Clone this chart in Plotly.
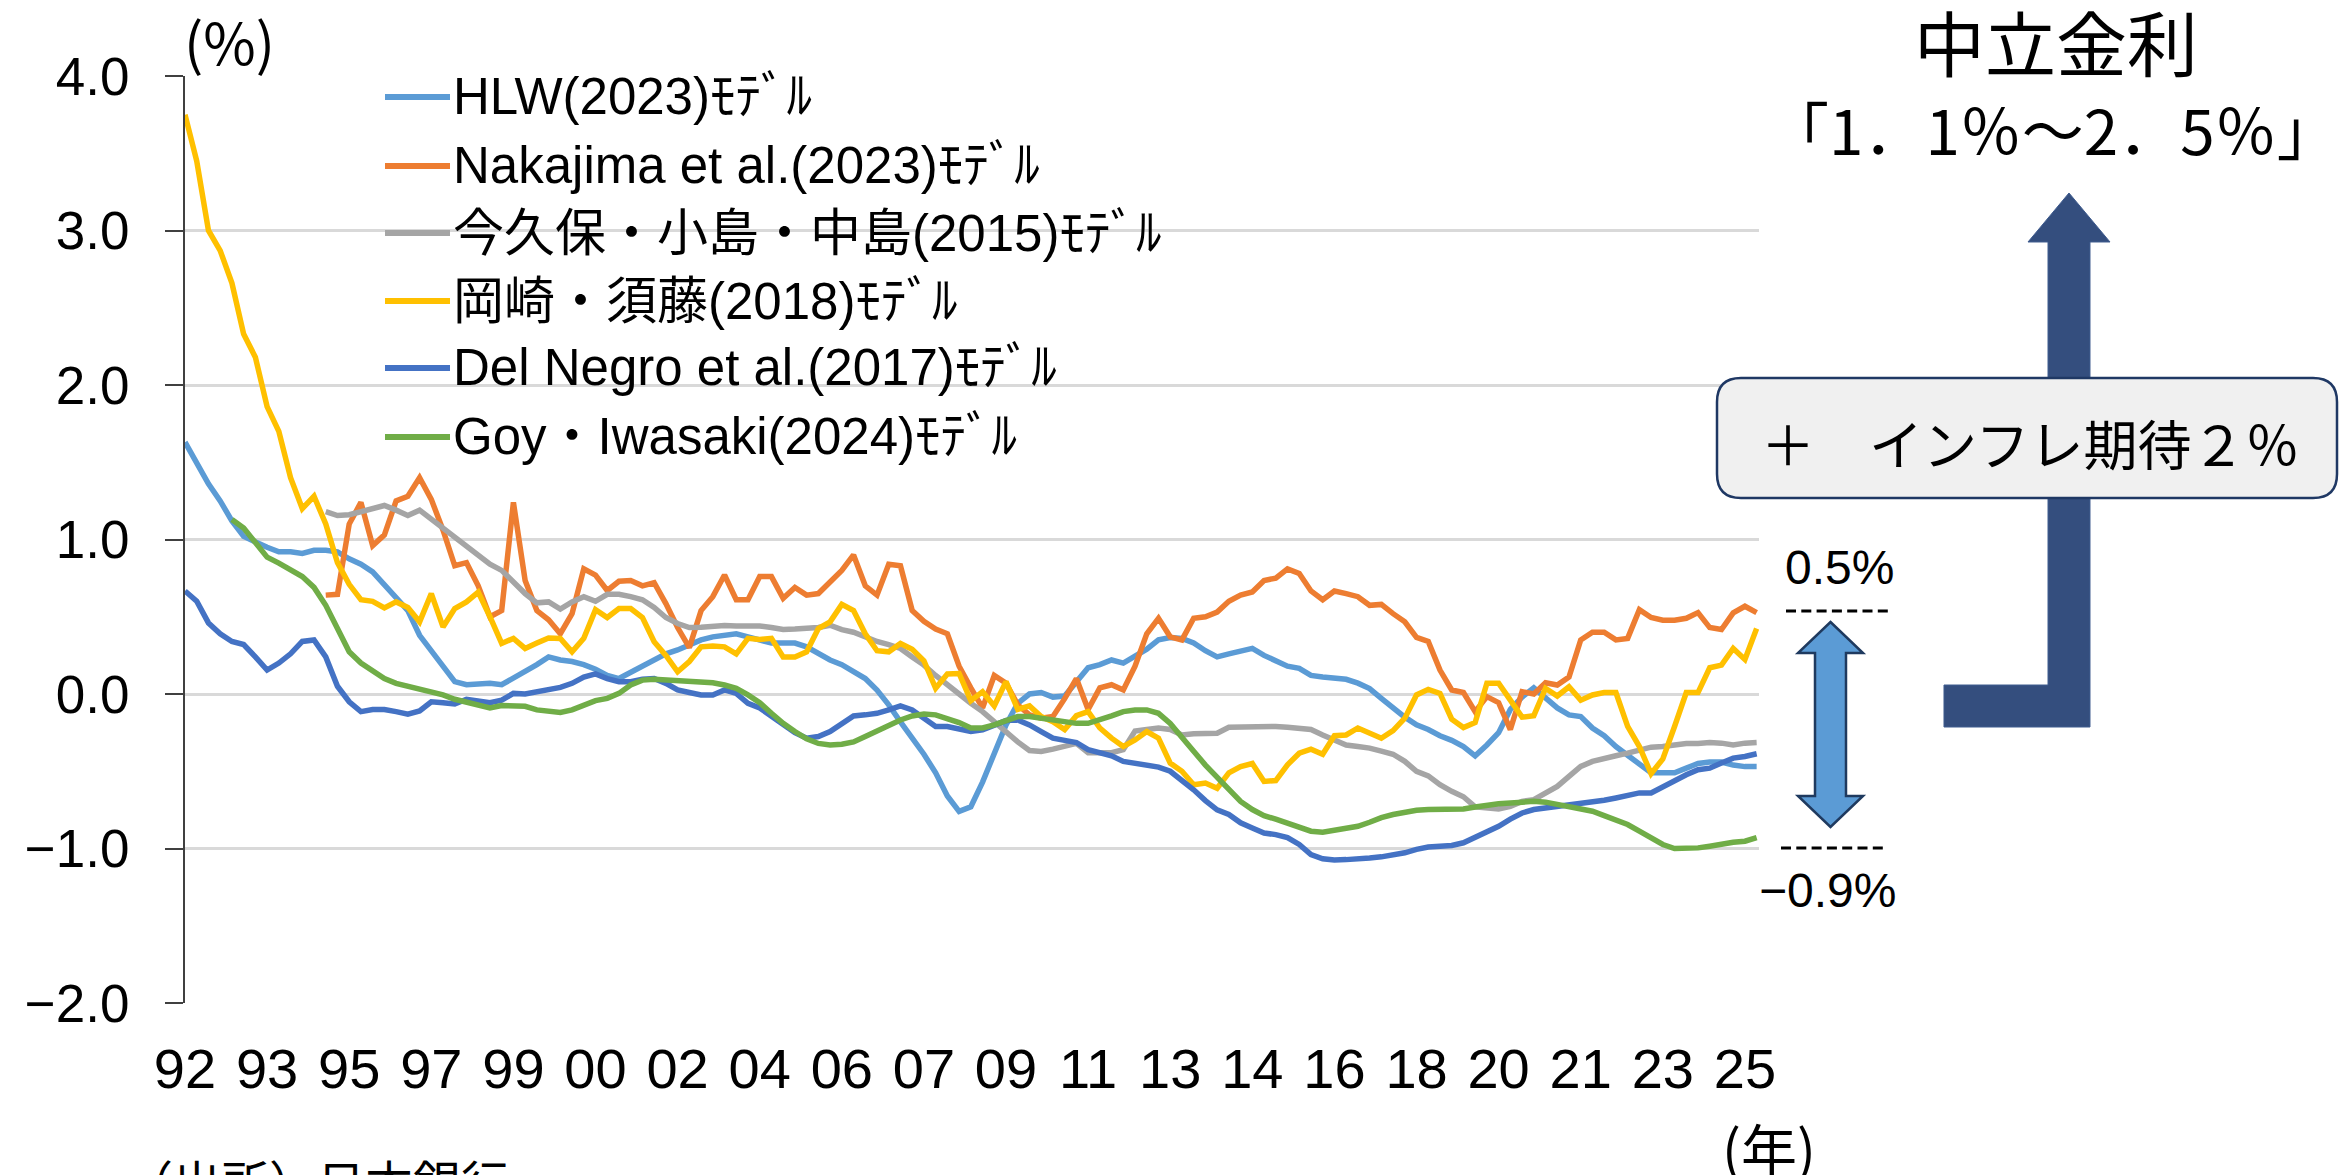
import plotly.graph_objects as go

# ---------------- data (quarterly, 1992Q1 = index 0) ----------------
tick_labels = ["92", "93", "95", "97", "99", "00", "02", "04", "06", "07",
               "09", "11", "13", "14", "16", "18", "20", "21", "23", "25"]
tick_step = 7

series_names = ["HLW(2023)ﾓﾃﾞﾙ", "Nakajima et al.(2023)ﾓﾃﾞﾙ", "今久保・小島・中島(2015)ﾓﾃﾞﾙ",
                "岡崎・須藤(2018)ﾓﾃﾞﾙ", "Del Negro et al.(2017)ﾓﾃﾞﾙ", "Goy・Iwasaki(2024)ﾓﾃﾞﾙ"]
series_colors = ["#5B9BD5", "#ED7D31", "#A5A5A5", "#FFC000", "#4472C4", "#70AD47"]

hlw = [1.63, 1.49, 1.36, 1.25, 1.12, 1.02, 0.98, 0.95, 0.92, 0.92,
       0.91, 0.93, 0.93, 0.92, 0.875, 0.84, 0.79, 0.71, 0.63, 0.54,
       0.38, 0.28, 0.18, 0.08, 0.06, 0.065, 0.07, 0.06, 0.10, 0.15,
       0.19, 0.24, 0.22, 0.21, 0.19, 0.16, 0.12, 0.10, 0.14, 0.19,
       0.23, 0.26, 0.285, 0.32, 0.35, 0.37, 0.38, 0.39, 0.37, 0.35,
       0.33, 0.33, 0.33, 0.305, 0.26, 0.22, 0.19, 0.14, 0.10, 0.025,
       -0.07, -0.18, -0.28, -0.39, -0.51, -0.66, -0.76, -0.73, -0.57, -0.39,
       -0.20, -0.06, 0.0, 0.01, -0.02, -0.013, 0.08, 0.17, 0.19, 0.22,
       0.20, 0.24, 0.29, 0.35, 0.365, 0.36, 0.33, 0.28, 0.24, 0.26,
       0.28, 0.295, 0.25, 0.21, 0.18, 0.166, 0.12, 0.11, 0.10, 0.095,
       0.07, 0.035, -0.028, -0.09, -0.15, -0.20, -0.23, -0.27, -0.30, -0.34,
       -0.40, -0.33, -0.25, -0.10, -0.02, 0.04, -0.02, -0.09, -0.135, -0.146,
       -0.22, -0.27, -0.34, -0.40, -0.46, -0.51, -0.51, -0.51, -0.48, -0.45,
       -0.44, -0.44, -0.46, -0.47, -0.47]

nakajima = [None] * 12 + [
       0.64, 0.645, 1.10, 1.24, 0.96, 1.03, 1.25, 1.28,
       1.40, 1.26, 1.06, 0.83, 0.85, 0.70, 0.50, 0.54, 1.24, 0.735,
       0.54, 0.48, 0.39, 0.52, 0.81, 0.77, 0.67, 0.73, 0.735, 0.70,
       0.72, 0.585, 0.43, 0.30, 0.54, 0.63, 0.77, 0.61, 0.61, 0.76,
       0.76, 0.62, 0.69, 0.64, 0.65, 0.72, 0.80, 0.90, 0.70, 0.64,
       0.84, 0.83, 0.54, 0.47, 0.42, 0.39, 0.18, 0.04, -0.09, 0.12,
       0.07, -0.07, -0.135, -0.157, -0.146, -0.03, 0.10, -0.10, 0.04, 0.06,
       0.026, 0.18, 0.39, 0.49, 0.37, 0.35, 0.49, 0.50, 0.53, 0.60,
       0.64, 0.66, 0.735, 0.75, 0.81, 0.78, 0.667, 0.61, 0.667, 0.65,
       0.63, 0.574, 0.58, 0.52, 0.467, 0.366, 0.34, 0.155, 0.026, 0.01,
       -0.114, -0.017, -0.056, -0.23, 0.015, 0.0, 0.073, 0.058, 0.11, 0.35,
       0.40, 0.40, 0.35, 0.36, 0.546, 0.495, 0.477, 0.477, 0.49, 0.527,
       0.43, 0.417, 0.525, 0.568, 0.527]

imakubo = [None] * 12 + [
       1.18, 1.155, 1.16, 1.18, 1.20, 1.22, 1.19, 1.155,
       1.19, 1.13, 1.08, 1.02, 0.96, 0.90, 0.84, 0.80, 0.725, 0.65,
       0.59, 0.596, 0.55, 0.596, 0.63, 0.60, 0.645, 0.645, 0.63, 0.61,
       0.56, 0.495, 0.456, 0.43, 0.432, 0.44, 0.443, 0.44, 0.44, 0.44,
       0.43, 0.417, 0.42, 0.424, 0.43, 0.445, 0.417, 0.40, 0.37, 0.34,
       0.32, 0.295, 0.24, 0.187, 0.12, 0.058, -0.006, -0.06, -0.114, -0.18,
       -0.24, -0.31, -0.366, -0.372, -0.357, -0.335, -0.32, -0.38, -0.38, -0.38,
       -0.36, -0.24, -0.23, -0.22, -0.23, -0.265, -0.258, -0.256, -0.254, -0.215,
       -0.212, -0.21, -0.21, -0.21, -0.215, -0.22, -0.23, -0.265, -0.30, -0.33,
       -0.34, -0.35, -0.37, -0.39, -0.436, -0.50, -0.53, -0.587, -0.63, -0.665,
       -0.73, -0.733, -0.744, -0.727, -0.695, -0.684, -0.64, -0.598, -0.533, -0.469,
       -0.436, -0.415, -0.40, -0.383, -0.36, -0.344, -0.34, -0.33, -0.32, -0.32,
       -0.314, -0.318, -0.33, -0.318, -0.314]

okazaki = [3.75, 3.45, 3.00, 2.87, 2.66, 2.33, 2.18, 1.86, 1.70, 1.40,
       1.20, 1.28, 1.10, 0.85, 0.71, 0.61, 0.60, 0.557, 0.596, 0.56,
       0.467, 0.65, 0.434, 0.553, 0.596, 0.66, 0.50, 0.327, 0.36, 0.295,
       0.33, 0.363, 0.36, 0.273, 0.36, 0.546, 0.495, 0.553, 0.553, 0.495,
       0.338, 0.25, 0.144, 0.21, 0.305, 0.31, 0.305, 0.26, 0.36, 0.353,
       0.36, 0.24, 0.24, 0.273, 0.424, 0.467, 0.58, 0.54, 0.39, 0.28,
       0.273, 0.327, 0.29, 0.215, 0.037, 0.13, 0.133, -0.043, 0.015, -0.077,
       0.08, -0.10, -0.077, -0.146, -0.18, -0.23, -0.14, -0.114, -0.22, -0.286,
       -0.34, -0.297, -0.243, -0.286, -0.447, -0.50, -0.587, -0.576, -0.61, -0.51,
       -0.47, -0.45, -0.566, -0.56, -0.458, -0.383, -0.357, -0.39, -0.27, -0.265,
       -0.22, -0.258, -0.286, -0.237, -0.157, -0.006, 0.03, 0.004, -0.163, -0.217,
       -0.185, 0.07, 0.07, -0.04, -0.15, -0.14, 0.037, -0.013, 0.047, -0.04,
       -0.006, 0.009, 0.009, -0.21, -0.34, -0.516, -0.42, -0.21, 0.009, 0.009,
       0.17, 0.187, 0.295, 0.224, 0.424]

delnegro = [0.667, 0.60, 0.46, 0.39, 0.34, 0.32, 0.24, 0.155, 0.20, 0.26,
       0.34, 0.35, 0.24, 0.05, -0.05, -0.114, -0.10, -0.10, -0.114, -0.13,
       -0.11, -0.05, -0.056, -0.065, -0.034, -0.043, -0.056, -0.04, 0.004, 0.0,
       0.013, 0.026, 0.043, 0.069, 0.11, 0.13, 0.10, 0.08, 0.08, 0.095,
       0.10, 0.069, 0.026, 0.01, -0.006, -0.006, 0.026, 0.004, -0.06, -0.09,
       -0.146, -0.20, -0.25, -0.286, -0.275, -0.243, -0.19, -0.142, -0.135, -0.125,
       -0.103, -0.077, -0.103, -0.157, -0.21, -0.21, -0.228, -0.243, -0.232, -0.20,
       -0.172, -0.168, -0.20, -0.243, -0.286, -0.30, -0.314, -0.36, -0.38, -0.40,
       -0.436, -0.447, -0.458, -0.473, -0.50, -0.555, -0.62, -0.69, -0.75, -0.78,
       -0.834, -0.867, -0.90, -0.91, -0.93, -0.974, -1.04, -1.067, -1.075, -1.072,
       -1.07, -1.062, -1.054, -1.045, -1.028, -1.006, -0.99, -0.985, -0.98, -0.963,
       -0.93, -0.888, -0.856, -0.81, -0.77, -0.748, -0.738, -0.727, -0.723, -0.71,
       -0.695, -0.688, -0.673, -0.652, -0.64, -0.64, -0.602, -0.555, -0.523, -0.49,
       -0.48, -0.447, -0.415, -0.404, -0.387]

goy = [None] * 4 + [
       1.13, 1.075, 0.98, 0.886, 0.847, 0.80,
       0.76, 0.69, 0.574, 0.424, 0.273, 0.20, 0.15, 0.10, 0.069, 0.05,
       0.037, 0.02, -0.006, -0.034, -0.05, -0.065, -0.09, -0.075, -0.077, -0.08,
       -0.103, -0.114, -0.12, -0.103, -0.07, -0.043, -0.028, 0.004, 0.058, 0.09,
       0.095, 0.09, 0.086, 0.08, 0.077, 0.073, 0.058, 0.037, -0.006, -0.056,
       -0.125, -0.19, -0.243, -0.29, -0.32, -0.33, -0.325, -0.31, -0.275, -0.24,
       -0.20, -0.168, -0.142, -0.13, -0.135, -0.157, -0.185, -0.22, -0.22, -0.20,
       -0.172, -0.146, -0.146, -0.157, -0.168, -0.178, -0.19, -0.19, -0.168, -0.142,
       -0.114, -0.103, -0.103, -0.125, -0.19, -0.286, -0.37, -0.46, -0.54, -0.61,
       -0.695, -0.748, -0.787, -0.81, -0.834, -0.86, -0.888, -0.895, -0.88, -0.868,
       -0.856, -0.83, -0.80, -0.78, -0.766, -0.753, -0.748, -0.748, -0.748, -0.744,
       -0.731, -0.716, -0.71, -0.705, -0.70, -0.695, -0.70, -0.716, -0.73, -0.744,
       -0.759, -0.787, -0.817, -0.845, -0.888, -0.93, -0.974, -1.0, -1.0, -0.996,
       -0.985, -0.968, -0.96, -0.953, -0.93]

series_values = [hlw, nakajima, imakubo, okazaki, delnegro, goy]

# ---------------- layout geometry (pixels) ----------------
W, H = 2341, 1175
L, R, T, B = 185, 1759, 76, 1003


def px(x):
    return (x - L) / (R - L)


def py(y):
    return (B - y) / (B - T)


def path_of(points):
    return "M " + " L ".join(f"{px(x):.5f},{py(y):.5f}" for x, y in points) + " Z"


NUM_FONT = "Liberation Sans, Noto Sans CJK JP, sans-serif"
JP_FONT = "Noto Sans CJK JP, Liberation Sans, sans-serif"
INK = "#000000"

fig = go.Figure()
for name, color, vals in zip(series_names, series_colors, series_values):
    fig.add_trace(go.Scatter(
        x=list(range(len(vals))), y=vals, mode="lines", name=name,
        line=dict(color=color, width=5.5), showlegend=False,
        connectgaps=False, hoverinfo="skip"))

n_points = len(hlw)
fig.update_xaxes(
    range=[0, (n_points - 1) + 0.2],
    tickmode="array",
    tickvals=[i * tick_step for i in range(len(tick_labels))],
    ticktext=tick_labels,
    ticks="", showgrid=False, showline=False, zeroline=False,
    tickfont=dict(family=NUM_FONT, size=56, color=INK),
    ticklabelstandoff=28,
)
fig.update_yaxes(
    range=[-2, 4], tickmode="array", tickvals=[-2, -1, 0, 1, 2, 3, 4],
    tickformat=".1f",
    showgrid=True, gridcolor="#D9D9D9", gridwidth=2.5,
    showline=True, linecolor="#404040", linewidth=2,
    ticks="outside", ticklen=18, tickwidth=2, tickcolor="#404040",
    zeroline=False,
    tickfont=dict(family=NUM_FONT, size=53, color=INK),
    ticklabelstandoff=25,
)

shapes = []
# big navy L-shaped arrow
shapes.append(dict(type="path", xref="paper", yref="paper",
                   path=path_of([(1944, 685), (2048, 685), (2048, 242), (2028, 242),
                                 (2069, 193), (2110, 242), (2090, 242), (2090, 727),
                                 (1944, 727)]),
                   fillcolor="#344E7E", line=dict(color="#3F5C8F", width=1), layer="above"))
# rounded box
x0, x1, y0, y1, r = 1717, 2337, 378, 498, 24
rb = [f"M {px(x0 + r):.5f},{py(y0):.5f}",
      f"L {px(x1 - r):.5f},{py(y0):.5f}",
      f"Q {px(x1):.5f},{py(y0):.5f} {px(x1):.5f},{py(y0 + r):.5f}",
      f"L {px(x1):.5f},{py(y1 - r):.5f}",
      f"Q {px(x1):.5f},{py(y1):.5f} {px(x1 - r):.5f},{py(y1):.5f}",
      f"L {px(x0 + r):.5f},{py(y1):.5f}",
      f"Q {px(x0):.5f},{py(y1):.5f} {px(x0):.5f},{py(y1 - r):.5f}",
      f"L {px(x0):.5f},{py(y0 + r):.5f}",
      f"Q {px(x0):.5f},{py(y0):.5f} {px(x0 + r):.5f},{py(y0):.5f} Z"]
shapes.append(dict(type="path", xref="paper", yref="paper", path=" ".join(rb),
                   fillcolor="#F0F0F0", line=dict(color="#1F3864", width=2.5), layer="above"))
# light blue double arrow
shapes.append(dict(type="path", xref="paper", yref="paper",
                   path=path_of([(1830.5, 622), (1863, 653), (1846, 653), (1846, 796),
                                 (1863, 796), (1830.5, 827), (1798, 796), (1815, 796),
                                 (1815, 653), (1798, 653)]),
                   fillcolor="#5B9BD5", line=dict(color="#1F3A5F", width=2.5), layer="above"))
# dashed markers
for (xa, xb, yy) in [(1786, 1893, 611), (1781, 1888, 848)]:
    shapes.append(dict(type="line", xref="paper", yref="paper",
                       x0=px(xa), x1=px(xb), y0=py(yy), y1=py(yy),
                       line=dict(color="#000000", width=3, dash="10px,5.3px"), layer="above"))
# legend swatches
legend_rows = [97, 166, 233, 301, 368, 437]
for color, yy in zip(series_colors, legend_rows):
    shapes.append(dict(type="line", xref="paper", yref="paper",
                       x0=px(385), x1=px(450), y0=py(yy), y1=py(yy),
                       line=dict(color=color, width=6), layer="above"))

annotations = []
for name, yy in zip(series_names, legend_rows):
    annotations.append(dict(text=name, xref="paper", yref="paper", x=px(451), y=py(yy),
                            xanchor="left", yanchor="middle", showarrow=False,
                            font=dict(family=NUM_FONT, size=51, color=INK)))


def label(text, x, y, size, family=JP_FONT, xanchor="center", yanchor="middle"):
    annotations.append(dict(text=text, xref="paper", yref="paper", x=px(x), y=py(y),
                            xanchor=xanchor, yanchor=yanchor, showarrow=False,
                            font=dict(family=family, size=size, color=INK)))


label("中立金利", 2056, 40, 71)
label("「1．1％～2．5％」", 2053, 128, 62)
label("＋　インフレ期待２％", 2030, 442, 54)
label("0.5%", 1840, 567, 48, family=NUM_FONT)
label("−0.9%", 1828, 890, 48, family=NUM_FONT)
label("(%)", 229, 40, 57)
label("(年)", 1769, 1146, 56)
label("（出所）日本銀行", 123, 1143, 48, xanchor="left", yanchor="top")

fig.update_layout(
    width=W, height=H,
    margin=dict(l=L, r=W - R, t=T, b=H - B, autoexpand=False),
    paper_bgcolor="white", plot_bgcolor="white",
    showlegend=False,
    shapes=shapes, annotations=annotations,
    font=dict(family=NUM_FONT, color=INK),
)

fig.write_html("out.html", config={"displayModeBar": False},
               post_script="document.body.style.margin='0';")
